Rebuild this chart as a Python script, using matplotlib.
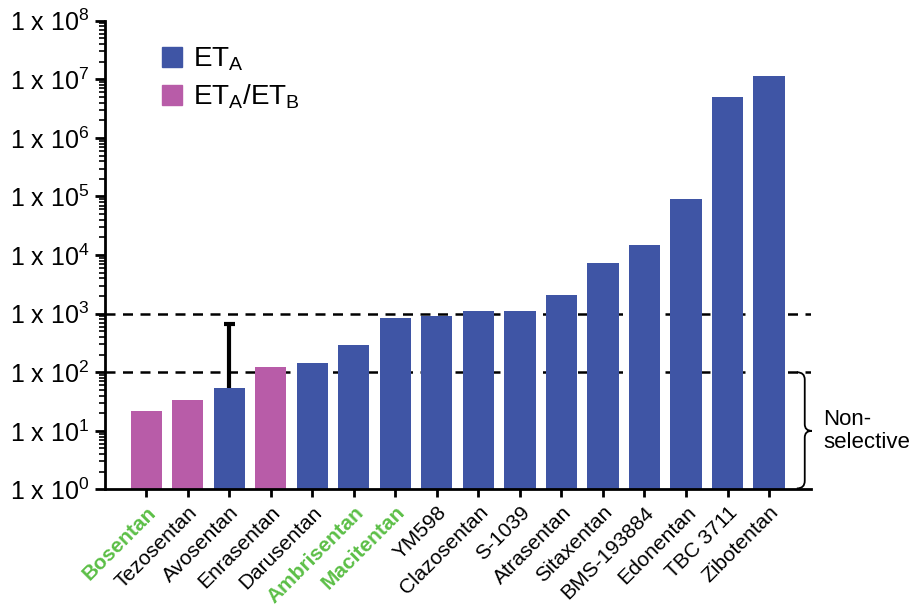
import numpy as np
import matplotlib; matplotlib.use("Agg")
import matplotlib.pyplot as plt
from matplotlib.ticker import LogLocator, FixedLocator
from matplotlib.patches import Patch, PathPatch
from matplotlib.path import Path

plt.rcParams["font.family"] = ["Liberation Sans", "DejaVu Sans"]
plt.rcParams["mathtext.fontset"] = "custom"
plt.rcParams["mathtext.rm"] = "Liberation Sans"
plt.rcParams["mathtext.it"] = "Liberation Sans"

drugs = ["Bosentan", "Tezosentan", "Avosentan", "Enrasentan", "Darusentan", "Ambrisentan",
         "Macitentan", "YM598", "Clazosentan", "S-1039", "Atrasentan", "Sitaxentan",
         "BMS-193884", "Edonentan", "TBC 3711", "Zibotentan"]
selectivity = [22, 33, 54, 121, 144, 292, 857, 903, 1130, 1110, 2065, 7400,
               14650, 90000, 5.07e6, 1.13e7]
receptor = ["AB", "AB", "A", "AB", "A", "A", "A", "A", "A", "A", "A", "A", "A", "A", "A", "A"]
approved = ["Bosentan", "Ambrisentan", "Macitentan"]
err_idx, err_top = 2, 668

BLUE = "#3f55a5"; PINK = "#b85ca8"; GREEN = "#5cbf47"
cols = [BLUE if r == "A" else PINK for r in receptor]

fig = plt.figure(figsize=(9.19, 6.08), dpi=100)
ax = fig.add_axes([0.114, 0.195, 0.768, 0.771])
x = np.arange(len(drugs))
ax.bar(x, selectivity, width=0.75, color=cols, zorder=2)
# one-sided error bar (upper only)
ax.vlines(x[err_idx], selectivity[err_idx], err_top, color="black", lw=3, zorder=3)
ax.hlines(err_top, x[err_idx] - 0.14, x[err_idx] + 0.14, color="black", lw=3, zorder=3)

ax.set_yscale("log")
ax.set_ylim(1, 1e8)
ax.set_xlim(-1, 16)
for yv in [1e2, 1e3]:
    ax.axhline(yv, color="black", lw=1.8, ls=(0, (4, 3)), zorder=1)

ax.yaxis.set_major_locator(FixedLocator([10.0**k for k in range(9)]))
ax.yaxis.set_minor_locator(LogLocator(base=10, subs=np.arange(2, 10), numticks=20))
ax.set_yticklabels([r"1 x 10$^{%d}$" % k for k in range(9)], fontsize=18)
ax.tick_params(axis="y", which="major", length=7, width=2, direction="out", pad=4)
ax.tick_params(axis="y", which="minor", length=4, width=1.2, direction="out")
ax.set_xticks(x)
ax.set_xticklabels(drugs, rotation=45, ha="right", rotation_mode="anchor", fontsize=15)
ax.tick_params(axis="x", length=6, width=2, direction="out")
for lab in ax.get_xticklabels():
    if lab.get_text() in approved:
        lab.set_color(GREEN); lab.set_fontweight("bold")

for s in ["top", "right"]:
    ax.spines[s].set_visible(False)
for s in ["left", "bottom"]:
    ax.spines[s].set_linewidth(2)

# curly brace marking the non-selective range (1 to 100)
x0, x1, x2 = 15.67, 15.86, 16.03
ylo, yhi = 1.04, 100
ymid = 10.0
verts = [(x0, yhi), (x1, yhi), (x1, yhi * 0.75), (x1, yhi * 0.5),
         (x1, ymid * 1.3), (x1, ymid), (x2, ymid),
         (x1, ymid), (x1, ymid / 1.3), (x1, ymid / 2.0),
         (x1, 1.4), (x1, ylo), (x0, ylo)]
codes = [Path.MOVETO, Path.CURVE3, Path.CURVE3, Path.LINETO,
         Path.LINETO, Path.CURVE3, Path.CURVE3,
         Path.CURVE3, Path.CURVE3, Path.LINETO,
         Path.LINETO, Path.CURVE3, Path.CURVE3]
ax.add_patch(PathPatch(Path(verts, codes), fill=False, lw=1.3, clip_on=False))
ax.text(16.3, 10, "Non-\nselective", fontsize=16, va="center", ha="left",
        linespacing=1.15)

handles = [Patch(color=BLUE, label=r"ET$_{\mathrm{A}}$"),
           Patch(color=PINK, label=r"ET$_{\mathrm{A}}$/ET$_{\mathrm{B}}$")]
ax.legend(handles=handles, loc="upper left", bbox_to_anchor=(0.045, 1.0), frameon=False,
          fontsize=20, handlelength=0.75, handleheight=0.75, handletextpad=0.4,
          labelspacing=0.35)

fig.savefig("out.png", dpi=100)
